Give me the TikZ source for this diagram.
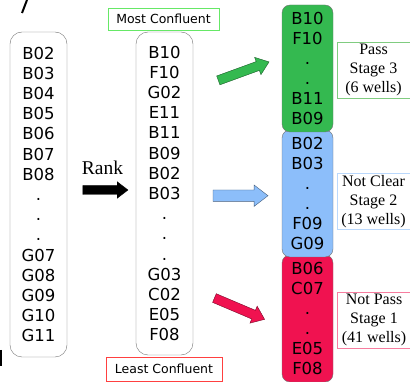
\documentclass[tikz,border=0pt]{standalone}
\usepackage{fontspec}
\setmainfont{Liberation Serif}
\setsansfont{DejaVu Sans}
\usetikzlibrary{shapes.arrows}

\definecolor{passgreen}{RGB}{52,185,80}
\definecolor{clearblue}{RGB}{140,190,250}
\definecolor{failred}{RGB}{240,18,80}

\begin{document}
\begin{tikzpicture}[x=1pt,y=-1pt,
    list node/.style={draw=black!55,rounded corners=12pt,minimum width=57pt,align=center,
                      font=\sffamily\fontsize{16.5}{20.2}\selectfont,inner sep=0pt},
    tag node/.style={draw,font=\sffamily\fontsize{12.5}{14}\selectfont,inner xsep=4pt,minimum height=22pt},
    stage node/.style={draw=black!55,rounded corners=8pt,minimum width=51pt,minimum height=127pt,align=center,
                       font=\sffamily\fontsize{16.5}{20}\selectfont,inner sep=0pt},
    label node/.style={draw,align=center,font=\fontsize{16}{19}\selectfont,minimum width=73pt,minimum height=56pt,inner sep=0pt},
    block arrow/.style={single arrow,draw,inner xsep=0pt,inner ysep=4.5pt,single arrow head extend=4.5pt,
                        single arrow tip angle=75}
  ]
  \useasboundingbox (0,0) rectangle (410,382);

  % cut-off bits at the edge
  \draw[line width=2pt] (27,0) -- (22,13);
  \draw[line width=2pt] (1,350) -- (1,366);

  % the wells before and after ranking
  \node[list node,minimum height=325pt] (raw) at (38.5,194.5)
    {B02\\B03\\B04\\B05\\B06\\B07\\B08\\.\\.\\.\\G07\\G08\\G09\\G10\\G11};
  \node[list node,minimum height=323pt] (ranked) at (164.5,193.5)
    {B10\\F10\\G02\\E11\\B11\\B09\\B02\\B03\\.\\.\\.\\G03\\C02\\E05\\F08};
  \node[tag node,draw=green!85!black!60,minimum width=111pt] (most) at (163.5,19) {Most Confluent};
  \node[tag node,draw=red!75,minimum width=116pt,minimum height=24pt] (least) at (164,369) {Least Confluent};

  \node[font=\fontsize{19.5}{20}\selectfont] (rank) at (102.5,168) {Rank};
  \node[block arrow,fill=black,minimum height=45pt,inner ysep=4.3pt,single arrow head extend=3.7pt] (rankarrow) at (102.5,190) {};

  % the three stages
  \node[stage node,fill=failred] (red) at (307.5,318.5) {B06\\C07\\.\\.\\E05\\F08};
  \node[stage node,fill=clearblue] (blue) at (307.5,193.5) {B02\\B03\\.\\.\\F09\\G09};
  \node[stage node,fill=passgreen] (green) at (307.5,68.5) {B10\\F10\\.\\.\\B11\\B09};

  \node[block arrow,fill=passgreen,draw=passgreen!50!black,minimum height=54pt,rotate=20] (up) at (240.8,72.2) {};
  \node[block arrow,fill=clearblue,draw=clearblue!50!black,minimum height=55pt,inner ysep=5.5pt,single arrow head extend=5pt] (mid) at (236.8,195.7) {};
  \node[block arrow,fill=failred,draw=failred!50!black,minimum height=54.5pt,rotate=-23] (down) at (236.7,307.5) {};

  \node[label node,draw=green!60!black!50] (pass) at (373.5,70) {Pass\\Stage 3\\(6 wells)};
  \node[label node,draw=clearblue!60] (notclear) at (373.5,201.5) {Not Clear\\Stage 2\\(13 wells)};
  \node[label node,draw=failred!55] (notpass) at (374,320) {Not Pass\\Stage 1\\(41 wells)};
\end{tikzpicture}
\end{document}
